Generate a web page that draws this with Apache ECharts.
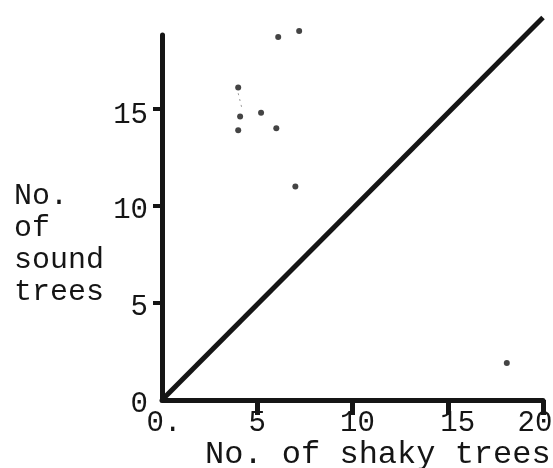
<!DOCTYPE html>
<html>
<head>
<meta charset="utf-8">
<script src="https://cdn.jsdelivr.net/npm/echarts@6/dist/echarts.min.js"></script>
<style>
html,body{margin:0;padding:0;background:#fff;}
#chart{width:553px;height:468px;}
</style>
</head>
<body>
<div id="chart"></div>
<script>
// Data
const shakyTrees = [6.1, 7.2, 4.0, 4.1, 5.2, 4.0, 6.0, 7.0, 18.1];
const soundTrees = [18.7, 19.0, 16.1, 14.6, 14.8, 13.9, 14.0, 11.0, 1.9];
const diagonalX = [0, 20];
const diagonalY = [0, 19.7];
const faintX = [4.0, 4.2];
const faintY = [15.8, 15.0];
const xTickValues = [5, 10, 15, 20];
const xLabelValues = [0, 5, 10, 15, 20];
const yTickValues = [5, 10, 15];
const yLabelValues = [0, 5, 10, 15];
const xAxisTitle = 'No. of shaky trees';
const yAxisTitle = 'No.\nof\nsound\ntrees';

const font = 'Liberation Mono';
const ink = '#151515';

// typewritten labels sit a little off their ticks
const xLabelStyle = {0: 'z', 5: 'c', 10: 'r1', 15: 'r2', 20: 'l1'};
const yLabelStyle = {0: 'd1', 5: 'd1', 10: 'd1', 15: 'd2'};

const chart = echarts.init(document.getElementById('chart'), null, {renderer: 'canvas'});
chart.setOption({
  animation: false,
  backgroundColor: '#ffffff',
  grid: {left: 162, right: 10, top: 35, bottom: 68, containLabel: false, outerBoundsMode: 'none'},
  xAxis: {
    type: 'value', min: 0, max: 20, interval: 5,
    splitLine: {show: false},
    axisLine: {show: true, onZero: false, lineStyle: {color: ink, width: 5}},
    axisTick: {show: true, customValues: xTickValues, length: 15, lineStyle: {color: ink, width: 5}},
    axisLabel: {
      customValues: xLabelValues, margin: 9, color: ink,
      fontFamily: font, fontSize: 29,
      formatter: v => '{' + xLabelStyle[v] + '|' + (v === 0 ? '0.' : String(v)) + '}',
      rich: {
        z: {fontFamily: font, fontSize: 29, color: ink, padding: [0, 0, 0, 4]},
        c: {fontFamily: font, fontSize: 29, color: ink},
        r1: {fontFamily: font, fontSize: 29, color: ink, padding: [0, 0, 0, 10]},
        r2: {fontFamily: font, fontSize: 29, color: ink, padding: [0, 0, 0, 20]},
        l1: {fontFamily: font, fontSize: 29, color: ink, padding: [0, 16, 0, 0]}
      }
    }
  },
  yAxis: {
    type: 'value', min: 0, max: 18.8, interval: 5,
    splitLine: {show: false},
    axisLine: {show: true, onZero: false, lineStyle: {color: ink, width: 5}},
    axisTick: {show: true, customValues: yTickValues, length: 9, lineStyle: {color: ink, width: 4}},
    axisLabel: {
      customValues: yLabelValues, margin: 14, color: ink,
      fontFamily: font, fontSize: 29,
      formatter: v => '{' + yLabelStyle[v] + '|' + v + '}',
      rich: {
        d1: {fontFamily: font, fontSize: 29, color: ink, padding: [8, 0, 0, 0]},
        d2: {fontFamily: font, fontSize: 29, color: ink, padding: [14, 0, 0, 0]}
      }
    }
  },
  series: [
    {
      type: 'line', clip: false, silent: true, symbol: 'none',
      data: diagonalX.map((x, i) => [x, diagonalY[i]]),
      lineStyle: {color: ink, width: 5}
    },
    {
      type: 'line', clip: false, silent: true, symbol: 'none',
      data: faintX.map((x, i) => [x, faintY[i]]),
      lineStyle: {color: '#9a9a9a', width: 1, type: [2, 4]}
    },
    {
      type: 'scatter', clip: false, symbol: 'circle', symbolSize: 6,
      data: shakyTrees.map((x, i) => [x, soundTrees[i]]),
      itemStyle: {color: ink}
    }
  ],
  graphic: [
    {
      type: 'text', left: 14, top: 180,
      style: {text: yAxisTitle, fontFamily: font, fontSize: 30, lineHeight: 32, fill: ink}
    },
    {
      type: 'text', left: 205, top: 439,
      style: {text: xAxisTitle, fontFamily: font, fontSize: 32, fill: ink}
    }
  ]
});
</script>
</body>
</html>
